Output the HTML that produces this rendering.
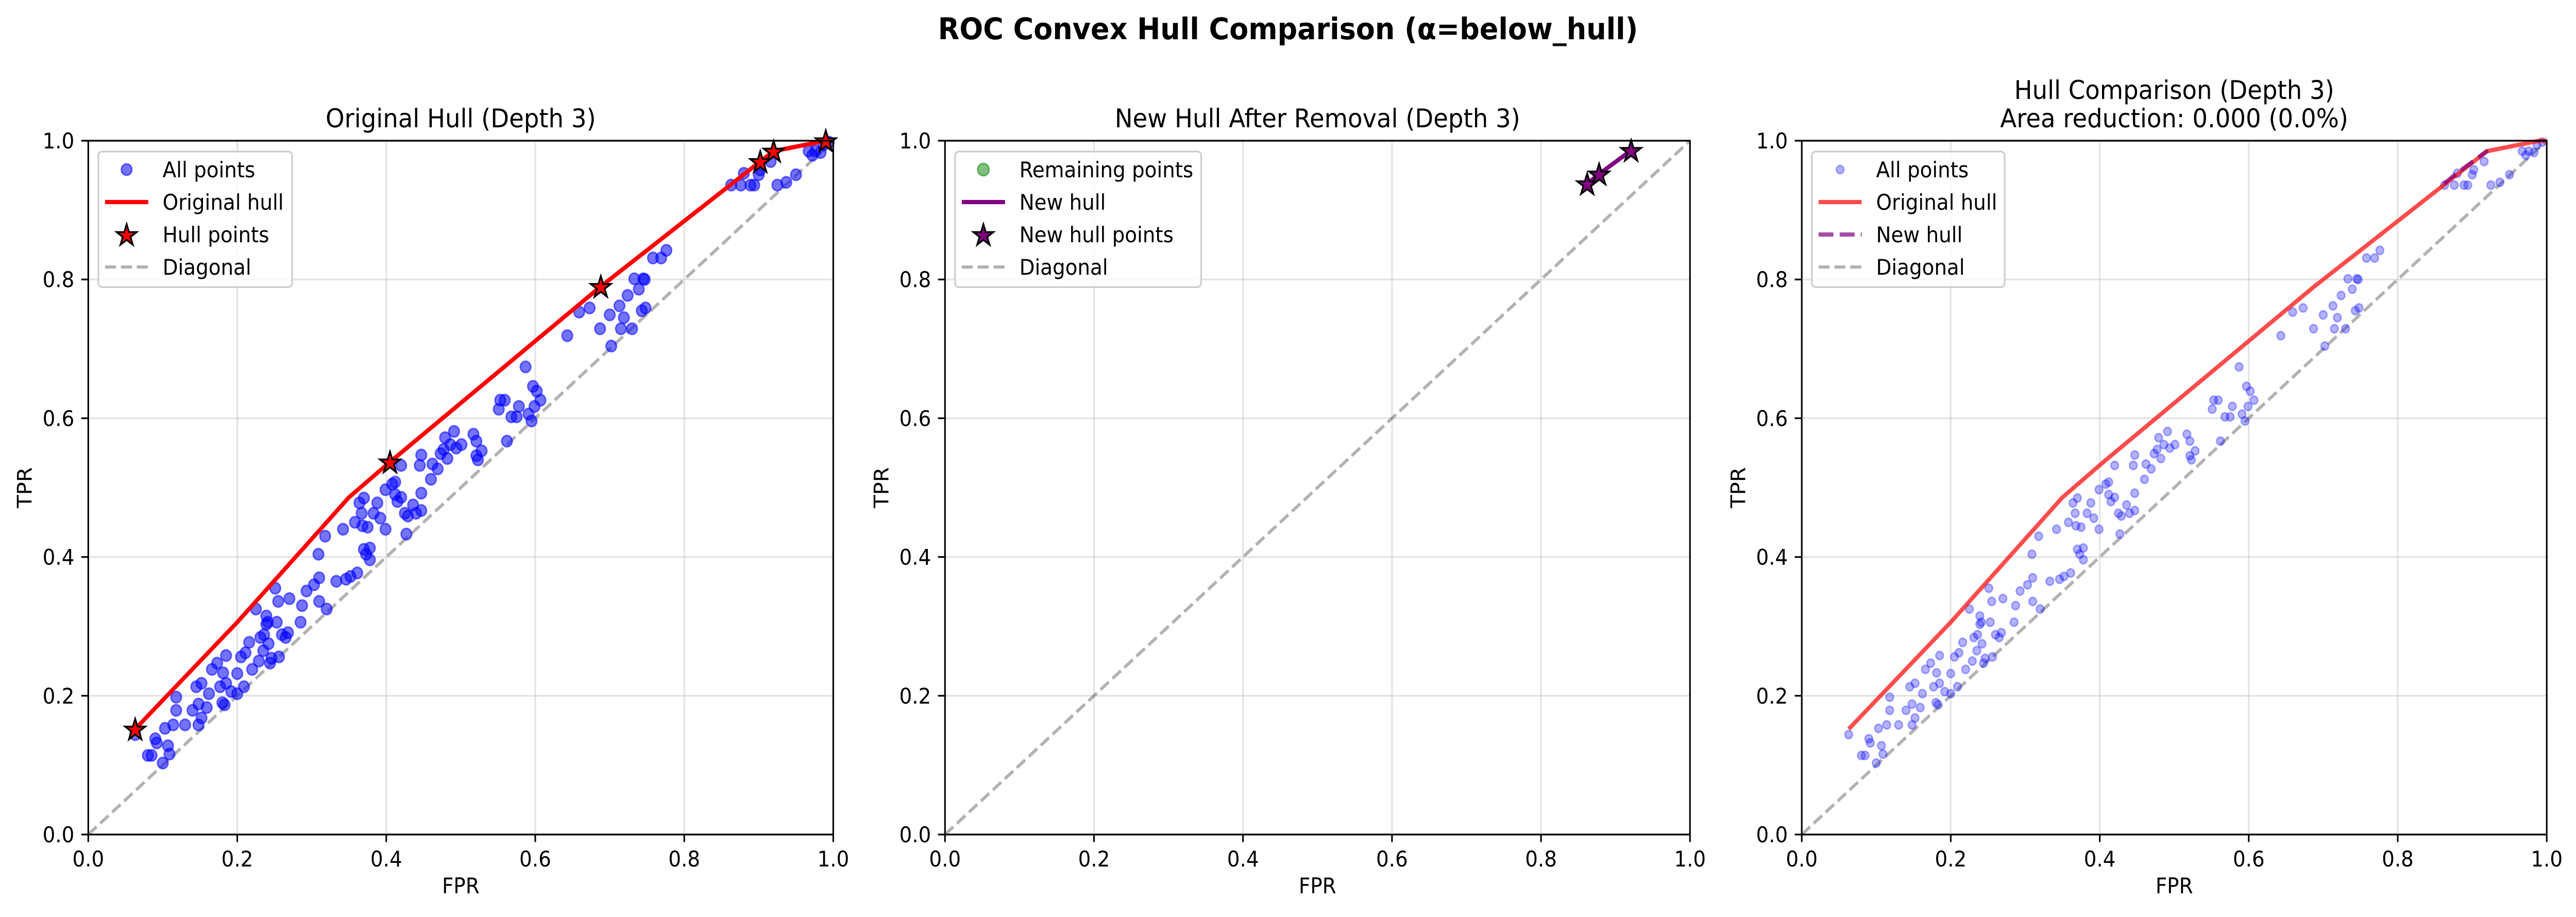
<!DOCTYPE html>
<html><head><meta charset="utf-8"><style>
html,body{margin:0;padding:0;background:#fff;overflow:hidden;width:100%;height:100%;}
svg{display:block;width:100vw;height:100vh;font-family:"DejaVu Sans","Liberation Sans",sans-serif;}
</style></head><body>
<svg id="fig" xmlns="http://www.w3.org/2000/svg" viewBox="0 0 5370 1779" preserveAspectRatio="none">
<rect x="0" y="0" width="5370" height="1779" fill="#fff"/>
<text x="2685" y="76" font-size="58" font-weight="bold" text-anchor="middle">ROC Convex Hull Comparison (α=below_hull)</text>
</svg>
<script>
const fpr=[0.063,0.080,0.085,0.090,0.092,0.100,0.103,0.107,0.109,0.114,0.118,0.118,0.130,0.140,0.145,0.148,0.152,0.152,0.148,0.159,0.162,0.166,0.173,0.177,0.180,0.183,0.185,0.185,0.181,0.192,0.200,0.200,0.205,0.209,0.211,0.216,0.220,0.225,0.229,0.231,0.235,0.236,0.239,0.241,0.239,0.242,0.244,0.246,0.251,0.255,0.253,0.256,0.260,0.265,0.268,0.270,0.285,0.287,0.293,0.303,0.309,0.310,0.310,0.318,0.320,0.333,0.342,0.346,0.352,0.358,0.361,0.364,0.367,0.368,0.370,0.370,0.373,0.375,0.378,0.378,0.383,0.388,0.392,0.399,0.399,0.408,0.412,0.412,0.415,0.420,0.420,0.425,0.427,0.429,0.436,0.440,0.445,0.447,0.447,0.447,0.460,0.462,0.469,0.473,0.477,0.479,0.482,0.486,0.491,0.494,0.501,0.517,0.521,0.521,0.523,0.528,0.551,0.553,0.559,0.562,0.568,0.575,0.578,0.587,0.591,0.595,0.597,0.599,0.602,0.607,0.643,0.659,0.673,0.687,0.700,0.702,0.713,0.715,0.719,0.724,0.730,0.733,0.739,0.743,0.745,0.747,0.748,0.758,0.769,0.776,0.863,0.876,0.880,0.889,0.894,0.900,0.902,0.916,0.925,0.937,0.950,0.967,0.972,0.976,0.983,0.987,0.994];
const tpr=[0.144,0.114,0.114,0.138,0.132,0.103,0.153,0.128,0.116,0.158,0.198,0.179,0.158,0.179,0.213,0.158,0.218,0.168,0.188,0.183,0.203,0.238,0.247,0.213,0.190,0.187,0.218,0.258,0.233,0.206,0.203,0.232,0.256,0.213,0.262,0.277,0.238,0.325,0.250,0.284,0.265,0.288,0.315,0.306,0.303,0.275,0.247,0.254,0.355,0.336,0.306,0.256,0.288,0.284,0.291,0.340,0.306,0.330,0.351,0.360,0.404,0.336,0.370,0.430,0.325,0.365,0.440,0.368,0.372,0.450,0.377,0.478,0.463,0.445,0.485,0.411,0.404,0.443,0.396,0.413,0.463,0.478,0.456,0.497,0.440,0.505,0.508,0.490,0.480,0.532,0.486,0.463,0.433,0.459,0.475,0.463,0.532,0.547,0.492,0.467,0.512,0.534,0.527,0.549,0.555,0.572,0.542,0.562,0.581,0.557,0.562,0.577,0.567,0.546,0.540,0.553,0.613,0.626,0.626,0.567,0.602,0.602,0.617,0.674,0.606,0.596,0.646,0.617,0.639,0.626,0.719,0.753,0.759,0.729,0.749,0.704,0.762,0.729,0.745,0.777,0.729,0.801,0.786,0.755,0.801,0.800,0.759,0.831,0.831,0.842,0.936,0.936,0.953,0.936,0.936,0.951,0.958,0.970,0.936,0.940,0.951,0.985,0.979,0.985,0.983,0.994,0.998];
const hullFpr=[0.063,0.200,0.350,0.405,0.688,0.902,0.920,0.990,1.000];
const hullTpr=[0.152,0.306,0.486,0.537,0.790,0.970,0.985,1.000,1.000];
const starFpr=[0.063,0.405,0.688,0.902,0.920,0.990];
const starTpr=[0.152,0.537,0.790,0.970,0.985,1.000];
const newHullFpr=[0.862,0.878,0.921];
const newHullTpr=[0.938,0.952,0.986];
const ticks=[0,0.2,0.4,0.6,0.8,1.0];
const tickLabels=["0.0","0.2","0.4","0.6","0.8","1.0"];

const NS="http://www.w3.org/2000/svg";
const svg=document.getElementById('fig');
function mk(tag,attrs,parent){const e=document.createElementNS(NS,tag);for(const k in attrs)e.setAttribute(k,attrs[k]);(parent||svg).appendChild(e);return e;}
const W=1553,H=1346,TOP=273;
const lefts=[184,1970,3756];
function starPath(cx,cy,R){const r=R*0.382;let d="";for(let i=0;i<10;i++){const a=-Math.PI/2+i*Math.PI/5;const rr=i%2?r:R;d+=(i?"L":"M")+(cx+rr*Math.cos(a)).toFixed(1)+","+(cy+rr*Math.sin(a)).toFixed(1);}return d+"Z";}

function panel(idx){
  const L=lefts[idx];
  const px=v=>L+v*W, py=v=>TOP+H-v*H;
  const g=mk('g',{});
  
  
  ticks.forEach((t,i)=>{
    const gx=mk('line',{x1:px(t),x2:px(t),y1:TOP,y2:TOP+H,stroke:'#b0b0b0','stroke-opacity':0.35,'stroke-width':3.3},g);
    
    
    const gy=mk('line',{x1:L,x2:L+W,y1:py(t),y2:py(t),stroke:'#b0b0b0','stroke-opacity':0.35,'stroke-width':3.3},g);
    
    
  });
  const dg=mk('line',{x1:px(0),y1:py(0),x2:px(1),y2:py(1),stroke:'#000','stroke-opacity':0.3,'stroke-width':6.2,'stroke-dasharray':'23,10'},g);
  
  
  return {g,px,py,L};
}
function axesFrame(p,title){
  const {g,px,py,L}=p;
  const fr=mk('rect',{x:L,y:TOP,width:W,height:H,fill:'none',stroke:'#000','stroke-width':3.3},g);
  
  
  ticks.forEach((t,i)=>{
    mk('line',{x1:px(t),x2:px(t),y1:TOP+H,y2:TOP+H+14.6,stroke:'#000','stroke-width':3.3},g);
    mk('line',{x1:L,x2:L-14.6,y1:py(t),y2:py(t),stroke:'#000','stroke-width':3.3},g);
    const tx=mk('text',{x:px(t),y:TOP+H+62,'font-size':41.7,'text-anchor':'middle'},g);
    tx.textContent=tickLabels[i];
    
    
    const ty=mk('text',{x:L-29,y:py(t)+15,'font-size':41.7,'text-anchor':'end'},g);
    ty.textContent=tickLabels[i];
    
    
  });
  const xt=mk('text',{x:L+W/2,y:1733,'font-size':41.7,'text-anchor':'middle'},g);
  xt.textContent='FPR';
  
  
  const yt=mk('text',{x:L-118,y:TOP+H/2,'font-size':41.7,'text-anchor':'middle',transform:`rotate(-90 ${L-118} ${TOP+H/2})`},g);
  yt.textContent='TPR';
  
  
  title.forEach((s,i)=>{
    const tt=mk('text',{x:L+W/2,y:(title.length===2?[192,247]:[247])[i],'font-size':50,'text-anchor':'middle'},g);
    tt.textContent=s;
    
    
  });
}
function legend(p,width,entries){
  const {g,L}=p;
  const lg=mk('g',{},g);
  
  
  const x0=L+21,y0=294;
  mk('rect',{x:x0,y:y0,width:width,height:263,rx:8,fill:'#fff','fill-opacity':0.8,stroke:'#cccccc','stroke-width':3.3},lg);
  entries.forEach((e,i)=>{
    const cy=y0+35+i*63, hx=x0+59;
    if(e.type==='dot') mk('circle',{cx:hx,cy:cy,r:e.r,fill:e.fill,'fill-opacity':e.a,stroke:e.fill,'stroke-opacity':e.a,'stroke-width':3},lg);
    else if(e.type==='star') mk('path',{d:starPath(hx,cy+2,22),fill:e.fill,stroke:'#000','stroke-width':3.5},lg);
    else mk('line',{x1:hx-45,x2:hx+45,y1:cy,y2:cy,stroke:e.stroke,'stroke-opacity':e.a,'stroke-width':e.w,'stroke-dasharray':e.dash||'none'},lg);
    const t=mk('text',{x:x0+134,y:cy+15,'font-size':41.7},lg);
    t.textContent=e.label;
    
    
  });
}
function hullPath(p,xs,ys){return xs.map((v,i)=>(i?'L':'M')+p.px(v).toFixed(1)+','+p.py(ys[i]).toFixed(1)).join('');}

const p1=panel(0);
fpr.forEach((v,i)=>{
  const c=mk('circle',{cx:p1.px(v),cy:p1.py(tpr[i]),r:11,fill:'#0000ff','fill-opacity':0.55,stroke:'#0000ff','stroke-opacity':0.55,'stroke-width':3},p1.g);
  
  
});
const h1=mk('path',{d:hullPath(p1,hullFpr,hullTpr),fill:'none',stroke:'#ff0000','stroke-width':8.3,'stroke-linejoin':'round'},p1.g);


starFpr.forEach((v,i)=>{
  const s=mk('path',{d:starPath(p1.px(v),p1.py(starTpr[i])+2,22),fill:'#ff0000',stroke:'#000','stroke-width':3.5},p1.g);
  
  
});
axesFrame(p1,['Original Hull (Depth 3)']);
legend(p1,404,[{type:'dot',r:11,fill:'#0000ff',a:0.55,label:'All points'},{type:'line',stroke:'#ff0000',a:1,w:8.3,label:'Original hull'},{type:'star',fill:'#ff0000',label:'Hull points'},{type:'line',stroke:'#000',a:0.3,w:6.2,dash:'23,10',label:'Diagonal'}]);

const p2=panel(1);
const h2=mk('path',{d:hullPath(p2,newHullFpr,newHullTpr),fill:'none',stroke:'#800080','stroke-width':8.3},p2.g);


newHullFpr.forEach((v,i)=>{
  const s=mk('path',{d:starPath(p2.px(v),p2.py(newHullTpr[i])+2,22),fill:'#800080',stroke:'#000','stroke-width':3.5},p2.g);
  
  
});
axesFrame(p2,['New Hull After Removal (Depth 3)']);
legend(p2,513,[{type:'dot',r:12,fill:'#008000',a:0.5,label:'Remaining points'},{type:'line',stroke:'#800080',a:1,w:8.3,label:'New hull'},{type:'star',fill:'#800080',label:'New hull points'},{type:'line',stroke:'#000',a:0.3,w:6.2,dash:'23,10',label:'Diagonal'}]);

const p3=panel(2);
fpr.forEach((v,i)=>{
  const c=mk('circle',{cx:p3.px(v),cy:p3.py(tpr[i]),r:8,fill:'#0000ff','fill-opacity':0.3,stroke:'#0000ff','stroke-opacity':0.3,'stroke-width':3},p3.g);
  
  
});
const h3=mk('path',{d:hullPath(p3,hullFpr,hullTpr),fill:'none',stroke:'#ff0000','stroke-opacity':0.7,'stroke-width':8.3,'stroke-linejoin':'round'},p3.g);


const h4=mk('path',{d:hullPath(p3,newHullFpr,newHullTpr),fill:'none',stroke:'#800080','stroke-opacity':0.7,'stroke-width':8.3,'stroke-dasharray':'31,13'},p3.g);


axesFrame(p3,['Hull Comparison (Depth 3)','Area reduction: 0.000 (0.0%)']);
legend(p3,402,[{type:'dot',r:8,fill:'#0000ff',a:0.3,label:'All points'},{type:'line',stroke:'#ff0000',a:0.7,w:8.3,label:'Original hull'},{type:'line',stroke:'#800080',a:0.7,w:8.3,dash:'31,13',label:'New hull'},{type:'line',stroke:'#000',a:0.3,w:6.2,dash:'23,10',label:'Diagonal'}]);
</script>
</body></html>
